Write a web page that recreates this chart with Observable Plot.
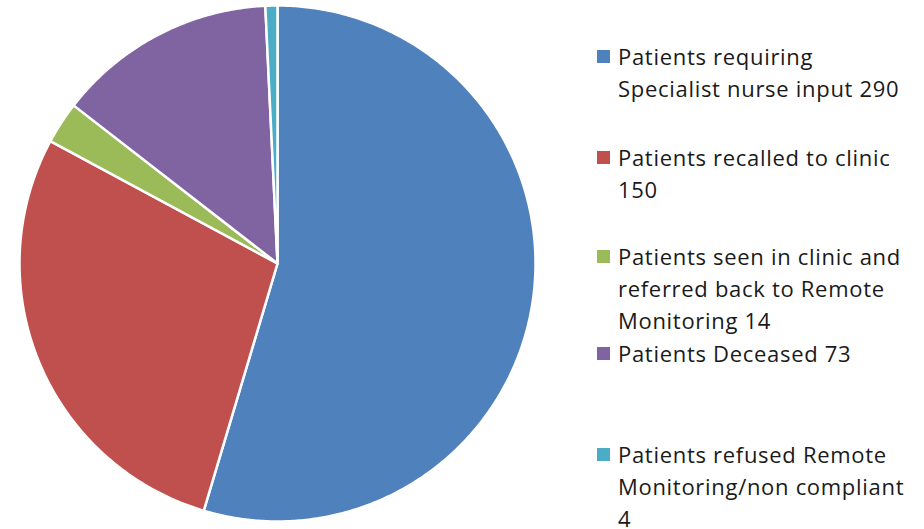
<!DOCTYPE html>
<html>
<head>
<meta charset="utf-8">
<script src="https://cdn.jsdelivr.net/npm/d3@7"></script>
<script src="https://cdn.jsdelivr.net/npm/@observablehq/plot@0.6"></script>
<style>
  html, body { margin: 0; padding: 0; background: #fff; }
  #wrap { position: relative; width: 924px; height: 529px; overflow: hidden; }
  #legend { position: absolute; left: 0; top: 0; width: 924px; height: 529px; pointer-events: none;
    font-family: "Open Sans", Lato, sans-serif; font-size: 22px; letter-spacing: 0.7px; color: #1a1a1a; }
  .item { position: absolute; left: 597px; white-space: pre-line; line-height: 32px; }
  .sw { position: absolute; left: 0; top: 10px; width: 13px; height: 13px; }
  .lbl { position: absolute; left: 21px; top: 0; width: 320px; }
</style>
</head>
<body>
<div id="wrap"><div id="chart"></div><div id="legend"></div></div>
<script>
const categories = [
  "Patients requiring\nSpecialist nurse input 290",
  "Patients recalled to clinic\n150",
  "Patients seen in clinic and\nreferred back to Remote\nMonitoring 14",
  "Patients Deceased 73",
  "Patients refused Remote\nMonitoring/non compliant\n4"
];
const values = [290, 150, 14, 73, 4];
const colors = ["#4F81BD", "#C0504D", "#9BBB59", "#8064A2", "#4BACC6"];
const legendTops = [40, 141, 240, 337, 438];

const arcs = d3.pie().sort(null).value(d => d)(values);
const features = arcs.map((a, i) => {
  const n = Math.max(4, Math.ceil((a.endAngle - a.startAngle) / (Math.PI / 360)));
  const ring = [[0, 0]];
  for (let k = 0; k <= n; k++) {
    const t = a.startAngle + (a.endAngle - a.startAngle) * k / n;
    ring.push([Math.sin(t), -Math.cos(t)]);
  }
  ring.push([0, 0]);
  return {type: "Feature", properties: {category: categories[i], value: values[i]}, geometry: {type: "Polygon", coordinates: [ring]}};
});

const chart = Plot.plot({
  width: 924,
  height: 529,
  margin: 0,
  projection: () => d3.geoIdentity().scale(258).translate([277, 263]),
  color: {domain: categories, range: colors},
  marks: [
    Plot.geo(features, {fill: d => d.properties.category, stroke: "white", strokeWidth: 2.5, strokeLinejoin: "round"})
  ]
});
document.getElementById("chart").appendChild(chart);

const legend = document.getElementById("legend");
categories.forEach((c, i) => {
  const it = document.createElement("div");
  it.className = "item";
  it.style.top = legendTops[i] + "px";
  const sw = document.createElement("div");
  sw.className = "sw";
  sw.style.background = colors[i];
  const lb = document.createElement("div");
  lb.className = "lbl";
  lb.textContent = c;
  it.appendChild(sw);
  it.appendChild(lb);
  legend.appendChild(it);
});
</script>
</body>
</html>
